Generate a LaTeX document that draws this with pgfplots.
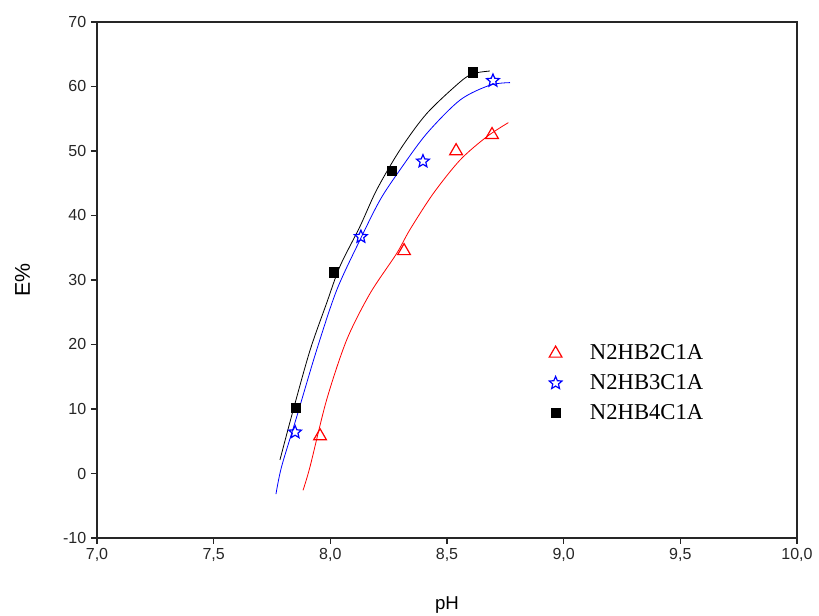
\documentclass[border=0pt]{standalone}
\usepackage{fontspec}
\setmainfont{Liberation Sans}
\newfontfamily\seriffont{Liberation Serif}
\usepackage{pgfplots}
\pgfplotsset{compat=1.18}
\pgfdeclareplotmark{ostar}{%
  \pgfpathmoveto{\pgfpointpolar{90}{\pgfplotmarksize}}%
  \pgfpathlineto{\pgfpointpolar{126}{0.45\pgfplotmarksize}}%
  \pgfpathlineto{\pgfpointpolar{162}{\pgfplotmarksize}}%
  \pgfpathlineto{\pgfpointpolar{198}{0.45\pgfplotmarksize}}%
  \pgfpathlineto{\pgfpointpolar{234}{\pgfplotmarksize}}%
  \pgfpathlineto{\pgfpointpolar{270}{0.45\pgfplotmarksize}}%
  \pgfpathlineto{\pgfpointpolar{306}{\pgfplotmarksize}}%
  \pgfpathlineto{\pgfpointpolar{342}{0.45\pgfplotmarksize}}%
  \pgfpathlineto{\pgfpointpolar{18}{\pgfplotmarksize}}%
  \pgfpathlineto{\pgfpointpolar{54}{0.45\pgfplotmarksize}}%
  \pgfpathclose
  \pgfusepathqstroke}
\begin{document}
\begin{tikzpicture}
\begin{axis}[
  scale only axis, width=525pt, height=387pt,
  xmin=7, xmax=10, ymin=-10, ymax=70,
  xtick={7,7.5,8,8.5,9,9.5,10}, ytick={-10,0,10,20,30,40,50,60,70},
  tick pos=left, tick align=outside, major tick length=4.5pt,
  axis line style={line width=1pt, black!85},
  every tick/.style={line width=1pt, black!85},
  /pgf/number format/assume math mode=true,
  xticklabel style={/pgf/number format/.cd, fixed, fixed zerofill, precision=1, use comma, assume math mode=true},
  ticklabel style={font=\fontsize{12}{14}\selectfont, text=black!85},
  xlabel={pH}, ylabel={E\%},
  xlabel style={font=\fontsize{14}{16}\selectfont, yshift=-19pt},
  ylabel style={font=\fontsize{16}{18}\selectfont, yshift=18pt},
  legend style={at={(0.64,0.385)}, anchor=north west, draw=none, fill=none,
    font=\seriffont\fontsize{17}{20}\selectfont, row sep=5.5pt, column sep=19pt},
  legend cell align=left,
]
% fitted curves
\addplot[red, semithick, smooth, forget plot] coordinates {
(7.883,-2.6) (7.913,1.05) (7.984,11.4) (8.070,20.7) (8.170,27.9) (8.284,34.1)
(8.341,37.8) (8.441,43.4) (8.556,48.6) (8.670,52.2) (8.763,54.4)};
\addplot[blue, semithick, smooth, forget plot] coordinates {
(7.767,-3.2) (7.791,1.05) (7.856,8.8) (7.941,19.1) (8.027,28.4) (8.127,36.2)
(8.213,42.4) (8.299,47.1) (8.413,52.7) (8.556,57.9) (8.684,60.2) (8.770,60.6)};
\addplot[black, semithick, smooth, forget plot] coordinates {
(7.784,2.1) (7.841,9.85) (7.913,19.1) (7.984,26.4) (8.041,32.1) (8.127,38.3)
(8.199,44.0) (8.299,50.2) (8.413,55.8) (8.556,60.7) (8.613,62.0) (8.684,62.4)};
% data points
\addplot[only marks, red, mark=triangle, mark size=5.5pt, mark options={line width=0.9pt}] coordinates {
(7.956,5.8) (8.316,34.5) (8.539,50.0) (8.693,52.5)};
\addlegendentry{N2HB2C1A}
\addplot[only marks, blue, mark=ostar, mark size=5pt, mark options={line width=0.9pt}] coordinates {
(7.849,6.4) (8.131,36.7) (8.397,48.4) (8.697,60.9)};
\addlegendentry{N2HB3C1A}
\addplot[only marks, black, mark=square*, mark size=3.5pt] coordinates {
(7.853,10.2) (8.016,31.2) (8.264,46.9) (8.611,62.2)};
\addlegendentry{N2HB4C1A}
\end{axis}
\pgfresetboundingbox
\path ([shift={(-72.75pt,-58.5pt)}]current axis.south west) rectangle ([shift={(16.5pt,16.5pt)}]current axis.north east);
\end{tikzpicture}
\end{document}
